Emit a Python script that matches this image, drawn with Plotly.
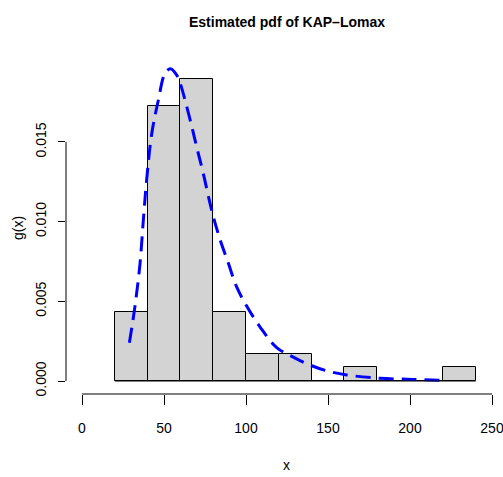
import plotly.graph_objects as go

# Histogram data (bin edges and counts), density = count / (n * width)
bin_edges = [20, 40, 60, 80, 100, 120, 140, 160, 180, 200, 220, 240]
counts = [5, 20, 22, 5, 2, 2, 0, 1, 0, 0, 1]

# Estimated KAP-Lomax pdf
curve_x = [28.9, 32.3, 35.4, 37.4, 39.4, 42.5, 46.5, 50.6, 54.0, 57.7, 59.8,
           65.9, 69.9, 74.0, 79.1, 84.1, 89.2, 94.3, 100.4, 108.5, 118.7,
           128.8, 139.0, 150.0, 161.4, 181.7, 202.0, 219.3]
curve_y = [0.0024, 0.0047, 0.0074, 0.0101, 0.0126, 0.0155, 0.0176, 0.0193,
           0.0196, 0.0192, 0.0187, 0.0164, 0.0147, 0.0130, 0.0107, 0.0089,
           0.0074, 0.0059, 0.0047, 0.0034, 0.0021, 0.0015, 0.0010, 0.00062,
           0.00038, 0.00017, 0.00010, 0.00005]

x_ticks = [0, 50, 100, 150, 200, 250]
y_ticks = [0.000, 0.005, 0.010, 0.015]
y_tick_text = ["0.000", "0.005", "0.010", "0.015"]

n = sum(counts)
widths = [b - a for a, b in zip(bin_edges[:-1], bin_edges[1:])]
centers = [(a + b) / 2 for a, b in zip(bin_edges[:-1], bin_edges[1:])]
density = [c / (n * w) for c, w in zip(counts, widths)]

SANS = "Liberation Sans, Arial, Helvetica, sans-serif"

fig = go.Figure()
fig.add_trace(go.Bar(
    x=centers, y=density, width=widths,
    marker=dict(color="#D3D3D3", line=dict(color="black", width=1)),
    showlegend=False, hoverinfo="skip",
))
fig.add_trace(go.Scatter(
    x=curve_x, y=curve_y, mode="lines",
    line=dict(color="blue", width=3, dash="15px,8px", shape="spline"),
    showlegend=False,
))

# baseline of histogram (R draws zero-height rects too)
fig.add_shape(type="line", xref="x", yref="y",
              x0=bin_edges[0], x1=bin_edges[-1], y0=0, y1=0,
              line=dict(color="black", width=1), layer="above")
# axis lines spanning only first..last tick (R style)
fig.add_shape(type="line", xref="x", yref="paper",
              x0=x_ticks[0], x1=x_ticks[-1], y0=0, y1=0,
              line=dict(color="black", width=1))
fig.add_shape(type="line", xref="paper", yref="y",
              x0=0, x1=0, y0=y_ticks[0], y1=y_ticks[-1],
              line=dict(color="black", width=1))

fig.update_layout(
    width=503, height=477,
    margin=dict(l=66, r=0, t=50, b=83),
    paper_bgcolor="white", plot_bgcolor="white",
    bargap=0,
    xaxis=dict(range=[-9.76, 256.7], tickvals=x_ticks,
               ticks="outside", ticklen=10, tickwidth=1, tickcolor="black",
               showgrid=False, zeroline=False, showline=False,
               ticklabelstandoff=11, ticklabeloverflow="allow",
               tickfont=dict(family=SANS, size=14, color="black")),
    yaxis=dict(range=[-0.000816, 0.02077], tickvals=y_ticks, ticktext=y_tick_text,
               ticks="outside", ticklen=7, tickwidth=1, tickcolor="black",
               tickangle=-90, showgrid=False, zeroline=False, showline=False,
               ticklabelstandoff=6,
               tickfont=dict(family=SANS, size=14, color="black")),
    annotations=[
        dict(text="<b>Estimated pdf of KAP\u2013Lomax</b>", xref="paper", yref="paper",
             x=0.5057, y=1, yshift=28, xanchor="center", yanchor="middle",
             showarrow=False, font=dict(family=SANS, size=14, color="black")),
        dict(text="x", xref="paper", yref="paper", x=0.5057, y=0, yshift=-71,
             xanchor="center", yanchor="middle", showarrow=False,
             font=dict(family=SANS, size=14, color="black")),
        dict(text="g(x)", xref="paper", yref="paper", x=0, xshift=-48, y=0.4826,
             xanchor="center", yanchor="middle", textangle=-90, showarrow=False,
             font=dict(family=SANS, size=14, color="black")),
    ],
)

fig.write_html("out.html")
